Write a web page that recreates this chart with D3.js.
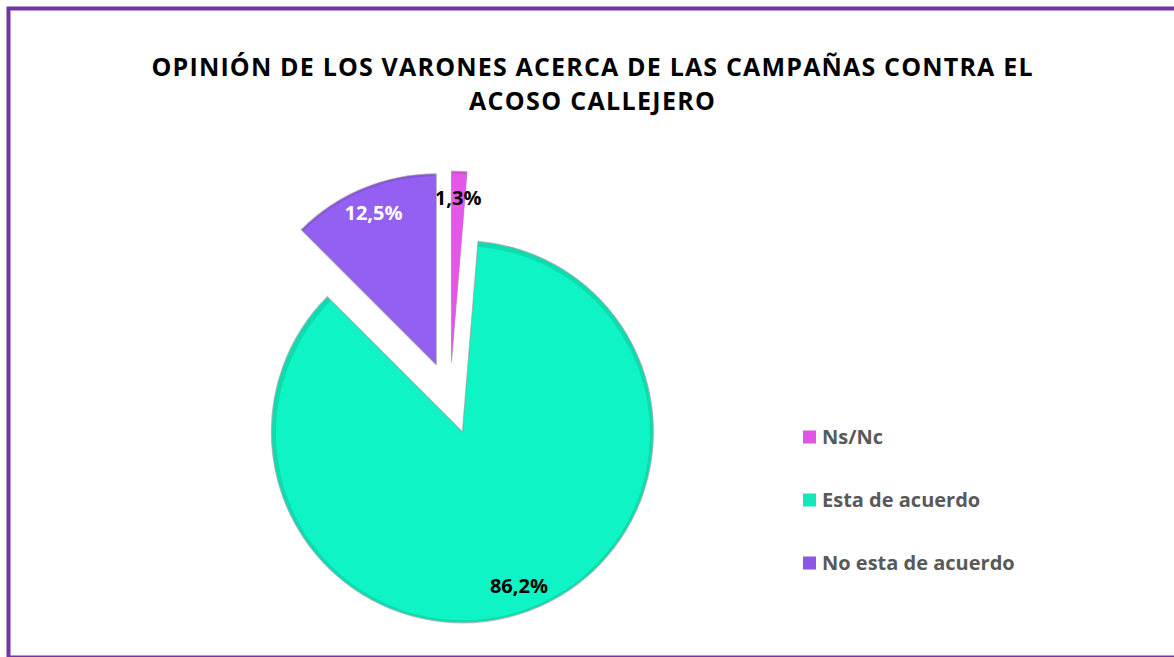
<!DOCTYPE html>
<html>
<head>
<meta charset="utf-8">
<script src="https://cdn.jsdelivr.net/npm/d3@7/dist/d3.min.js"></script>
<style>
  html, body { margin: 0; padding: 0; background: #fff; }
  svg { display: block; }
</style>
</head>
<body>
<svg id="chart" width="1174" height="657"></svg>
<script>
const categories = ["Ns/Nc", "Esta de acuerdo", "No esta de acuerdo"];
const values = [1.3, 86.2, 12.5];
const labels = ["1,3%", "86,2%", "12,5%"];
const colors = ["#E457E8", "#0EF4C4", "#9360F2"];
const legendColors = ["#E353E6", "#14E8B8", "#8B57E6"];
const labelColors = ["#000000", "#000000", "#FFFFFF"];
const titleLines = ["OPINIÓN DE LOS VARONES ACERCA DE LAS CAMPAÑAS CONTRA EL", "ACOSO CALLEJERO"];

const W = 1174, H = 657;
const svg = d3.select("#chart");

// border
svg.append("rect")
  .attr("x", 8.5).attr("y", 8.5)
  .attr("width", W + 10).attr("height", 649)
  .attr("fill", "none")
  .attr("stroke", "#7334A8")
  .attr("stroke-width", 4);

// title
const title = svg.append("text")
  .attr("text-anchor", "middle")
  .attr("font-family", "'Open Sans', sans-serif")
  .attr("font-weight", "bold")
  .attr("font-size", 25)
  .attr("fill", "#000");
title.append("tspan").attr("x", 592).attr("y", 76).attr("textLength", 881).attr("lengthAdjust", "spacing").text(titleLines[0]);
title.append("tspan").attr("x", 592).attr("y", 110).attr("textLength", 246).attr("lengthAdjust", "spacing").text(titleLines[1]);

// pie
const cx = 450, cy = 398, R = 191, explode = 36, labelR = 164;
const pie = d3.pie().sort(null).value(d => d).startAngle(0).endAngle(2 * Math.PI);
const arcs = pie(values);
const arc = d3.arc().innerRadius(0).outerRadius(R);
const arcInner = d3.arc().innerRadius(0).outerRadius(R - 4);

const g = svg.append("g").attr("transform", `translate(${cx},${cy})`);

const slices = g.selectAll("g.slice").data(arcs).enter().append("g")
  .attr("class", "slice")
  .attr("transform", d => {
    const a = (d.startAngle + d.endAngle) / 2;
    return `translate(${explode * Math.sin(a)},${-explode * Math.cos(a)})`;
  });

slices.append("path")
  .attr("d", arc)
  .attr("fill", (d, i) => d3.color(colors[i]).darker(0.3))
  .attr("stroke", "#a8a8a8")
  .attr("stroke-opacity", 0.7)
  .attr("stroke-width", 1.2)
  .attr("stroke-linejoin", "round");

slices.append("path")
  .attr("d", arcInner)
  .attr("fill", (d, i) => colors[i])
  .attr("transform", d => {
    const a = (d.startAngle + d.endAngle) / 2;
    return `translate(${1.5 * Math.sin(a)},${-1.5 * Math.cos(a)})`;
  });

slices.append("text")
  .attr("transform", d => {
    const a = (d.startAngle + d.endAngle) / 2;
    return `translate(${labelR * Math.sin(a)},${-labelR * Math.cos(a)})`;
  })
  .attr("text-anchor", "middle")
  .attr("dy", "0.36em")
  .attr("font-family", "'Open Sans', sans-serif")
  .attr("font-weight", "bold")
  .attr("font-size", 20)
  .attr("fill", (d, i) => labelColors[i])
  .text((d, i) => labels[i]);

// legend
const legend = svg.append("g");
const ly = d3.scalePoint().domain(categories).range([437, 563]);
const items = legend.selectAll("g").data(categories).enter().append("g")
  .attr("transform", d => `translate(803,${ly(d)})`);
items.append("rect")
  .attr("x", 0).attr("y", -6.5).attr("width", 13).attr("height", 13)
  .attr("fill", (d, i) => legendColors[i]);
items.append("text")
  .attr("x", 19).attr("dy", "0.36em")
  .attr("font-family", "'Open Sans', sans-serif")
  .attr("font-weight", "bold")
  .attr("font-size", 20)
  .attr("fill", "#595959")
  .text(d => d);
</script>
</body>
</html>
